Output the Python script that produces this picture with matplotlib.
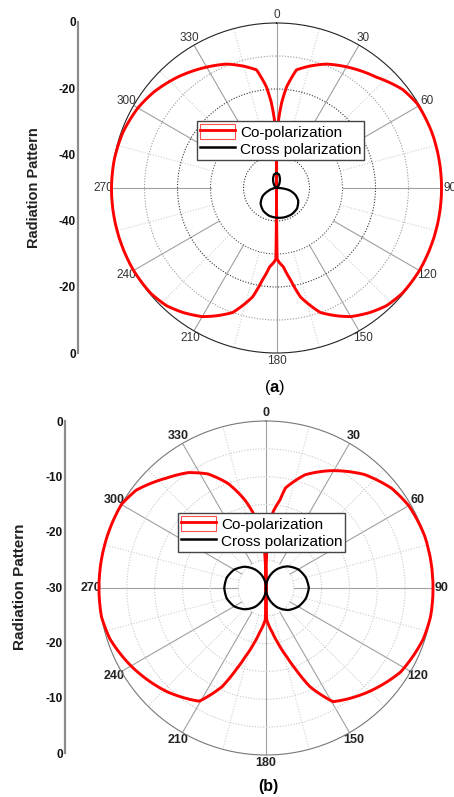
import numpy as np
import matplotlib
matplotlib.use('Agg')
import matplotlib.pyplot as plt
from matplotlib.patches import Rectangle
from matplotlib.lines import Line2D
from matplotlib.legend_handler import HandlerTuple

plt.rcParams['font.family'] = ['Liberation Sans', 'DejaVu Sans']
plt.rcParams['mathtext.fontset'] = 'custom'
plt.rcParams['mathtext.rm'] = 'Liberation Sans'
plt.rcParams['mathtext.bf'] = 'Liberation Sans:bold'

# ---- panel (a): angle (deg) / level (dB) ----
a_co_ang = [0, 0.5, 1.7, 3.5, 5.7, 9.6, 15, 22, 30, 42, 52, 59, 70, 80, 90,
            100, 110, 120, 130, 137, 143, 150, 155, 160.6, 167.6, 171.3, 175, 178, 179.5, 180,
            180.5, 182, 185, 188.7, 192.4, 199.4, 205, 210, 217, 223, 230, 240, 250, 260, 270,
            280, 290, 300, 308, 318.4, 330, 338, 345, 350.4, 354.3, 356.5, 358.3, 359.5, 360]
a_co_db = [-50, -35, -29.4, -24, -19.2, -13.7, -11.8, -9.5, -7.6, -4.8, -1.5, -0.3, 0, 0, 0,
           0, 0, 0, -0.3, -1.2, -2.8, -5, -7.3, -10, -16.2, -21.8, -26, -27.5, -28.5, -50,
           -28.5, -27.5, -26, -21.8, -16.2, -10, -7.3, -5, -2.8, -1.2, -0.3, 0, 0, 0, 0,
           -0.1, -0.5, -1.5, -2.8, -5.0, -7.7, -9.5, -11.8, -13.7, -19.2, -24, -29.4, -35, -50]

a_x_ang = [0, 10, 20, 30, 45, 60, 80, 90, 100, 110, 120, 135, 150, 165, 180,
           195, 210, 225, 240, 250, 260, 270, 290, 315, 330, 340, 350, 360]
a_x_db = [-45.5, -45.8, -47, -48.2, -49.4, -50, -50, -49.5, -46, -43.9, -42.4, -41.2, -40.8, -40.8, -41,
          -41.3, -42, -43.2, -45.2, -47.3, -48.8, -49.5, -50, -49.4, -48.2, -47, -45.8, -45.5]

# ---- panel (b) ----
b_co_ang = [0, 1, 2.5, 5.4, 9, 11, 19, 29, 41, 51.5, 60, 72, 90,
            100, 108, 122, 136, 149.5, 156, 160, 163.2, 168, 172, 178.7, 180,
            181.3, 188, 192, 196.8, 200, 204, 210.5, 224, 240, 252, 260, 270,
            280, 290, 300, 307, 318, 326, 333, 340, 346.6, 350.4, 355.8, 358, 360]
b_co_db = [-30, -24, -19.5, -16.2, -14, -11.7, -8.5, -5.9, -3.0, -1.2, -0.4, 0, 0,
           0, -0.3, -1.5, -3.9, -6.3, -10.6, -14.5, -17.1, -20, -22, -24.3, -30,
           -24.3, -22, -20, -17.1, -14.5, -10.6, -6.4, -4.2, -2, -0.5, 0, 0,
           0, 0, 0, -0.8, -3.4, -5.0, -7, -10, -13.8, -16.4, -19.6, -24, -30]

b_x_ang = [0, 15, 30, 45, 60, 75, 90, 105, 120, 135, 150, 165, 180,
           195, 210, 225, 240, 255, 270, 285, 300, 315, 330, 345, 360]
b_x_db = [-30, -28, -26.1, -24.5, -23.3, -22.6, -22.3, -22.6, -23.3, -24.4, -26, -28, -30,
          -28, -26.1, -24.6, -23.4, -22.7, -22.5, -22.7, -23.4, -24.6, -26.2, -28, -30]

theta_ticks = list(range(0, 360, 30))
theta_labels = ['0', '30', '60', '90', '120', '150', '180', '210', '240', '270', '300', '330']
a_scale_labels = ['0', '-20', '-40', '-40', '-20', '0']
b_scale_labels = ['0', '-10', '-20', '-30', '-20', '-10', '0']
legend_labels = ['Co-polarization', 'Cross polarization']

W, H = 454, 797
fig = plt.figure(figsize=(W / 100, H / 100), dpi=100)


def box(cx, cy, r):
    return [(cx - r) / W, 1 - (cy + r) / H, 2 * r / W, 2 * r / H]


def polar_panel(rect, rmin, rings, ring_colors, spoke_from, bold, outer_color):
    ax = fig.add_axes(rect, projection='polar')
    ax.set_theta_zero_location('N')
    ax.set_theta_direction(-1)
    ax.set_rlim(rmin, 0)
    ax.set_rticks(rings)
    ax.set_yticklabels([])
    ax.set_thetagrids(theta_ticks, theta_labels, fontsize=9 if bold else 8.5,
                      fontweight='bold' if bold else 'normal', color='#222' if bold else '#333')
    ax.tick_params(axis='x', pad=-4.5)
    ax.xaxis.grid(False)
    for gl, c in zip(ax.yaxis.get_gridlines(), ring_colors):
        gl.set_color(c)
        gl.set_linestyle((0, (1, 1.5)))
        gl.set_linewidth(0.8)
    for t in range(0, 360, 30):
        ax.plot([np.radians(t)] * 2, [spoke_from, 0], color='#a0a0a0', lw=0.8, zorder=1)
        ax.plot([np.radians(t + 15)] * 2, [spoke_from, 0], color='#d0d0d0', lw=0.8,
                linestyle=(0, (1, 1.5)), zorder=1)
    ax.spines['polar'].set_color(outer_color)
    ax.spines['polar'].set_linewidth(0.8)
    return ax


def curve(ax, ang, db, color, lw, z):
    line, = ax.plot(np.radians(ang), db, color=color, lw=lw, zorder=z, clip_on=False)
    # follow the polar grid between readings (arcs, not chords)
    line.get_path()._interpolation_steps = 40
    return line


def side_scale(x, y0, y1, labels, ylab_x, ylab_size):
    ax = fig.add_axes([x / W, 1 - y1 / H, 0.0001, (y1 - y0) / H])
    ax.set_ylim(len(labels) - 1, 0)
    ax.set_yticks(range(len(labels)))
    ax.set_yticklabels(labels, fontsize=8.5, fontweight='bold', color='#111')
    ax.set_xticks([])
    for s in ['top', 'right', 'bottom']:
        ax.spines[s].set_visible(False)
    ax.spines['left'].set_color('#8c8c8c')
    ax.spines['left'].set_linewidth(1.6)
    ax.tick_params(axis='y', length=0, pad=1.5)
    fig.text(ylab_x / W, 1 - (y0 + y1) / 2 / H, 'Radiation Pattern', rotation=90,
             ha='center', va='center', fontsize=ylab_size, fontweight='bold', color='#222')


def legend(ax, x, y):
    co = (Rectangle((0, 0), 1, 1, facecolor='none', edgecolor='#ff5050', lw=0.8),
          Line2D([], [], color='red', lw=2))
    cx = Line2D([], [], color='black', lw=1.8)
    ax.legend([co, cx], legend_labels, handler_map={tuple: HandlerTuple(ndivide=1)},
              loc='upper left', bbox_to_anchor=(x / W, 1 - y / H), bbox_transform=fig.transFigure,
              fancybox=False, edgecolor='#444', framealpha=1, fontsize=11,
              handlelength=2.3, handleheight=1.1, labelspacing=0.1, borderpad=0.2,
              handletextpad=0.3, borderaxespad=0)


# (a)
ax_a = polar_panel(box(276.5, 188, 165), -50, [-40, -30, -20, -10],
                   ['#333333', '#555555', '#333333', '#999999'], -30, False, '#222')
curve(ax_a, a_co_ang, a_co_db, 'red', 2.1, 3)
curve(ax_a, a_x_ang, a_x_db, 'black', 1.6, 4)
legend(ax_a, 197, 121)
side_scale(78, 22, 353, a_scale_labels, 34, 10.5)
fig.text(275 / W, 1 - 388 / H, r'($\mathbf{a}$)', ha='center', va='center', fontsize=12)

# (b)
ax_b = polar_panel(box(266, 588, 167), -30, [-25, -20, -15, -10, -5],
                   ['#c8c8c8'] * 5, -25, True, '#777')
curve(ax_b, b_co_ang, b_co_db, 'red', 2.1, 3)
curve(ax_b, b_x_ang, b_x_db, 'black', 1.6, 4)
legend(ax_b, 178, 513)
side_scale(65, 421, 753, b_scale_labels, 20, 11)
fig.text(268 / W, 1 - 786 / H, '(b)', ha='center', va='center', fontsize=11.5, fontweight='bold')

fig.savefig('out.png', dpi=100)
